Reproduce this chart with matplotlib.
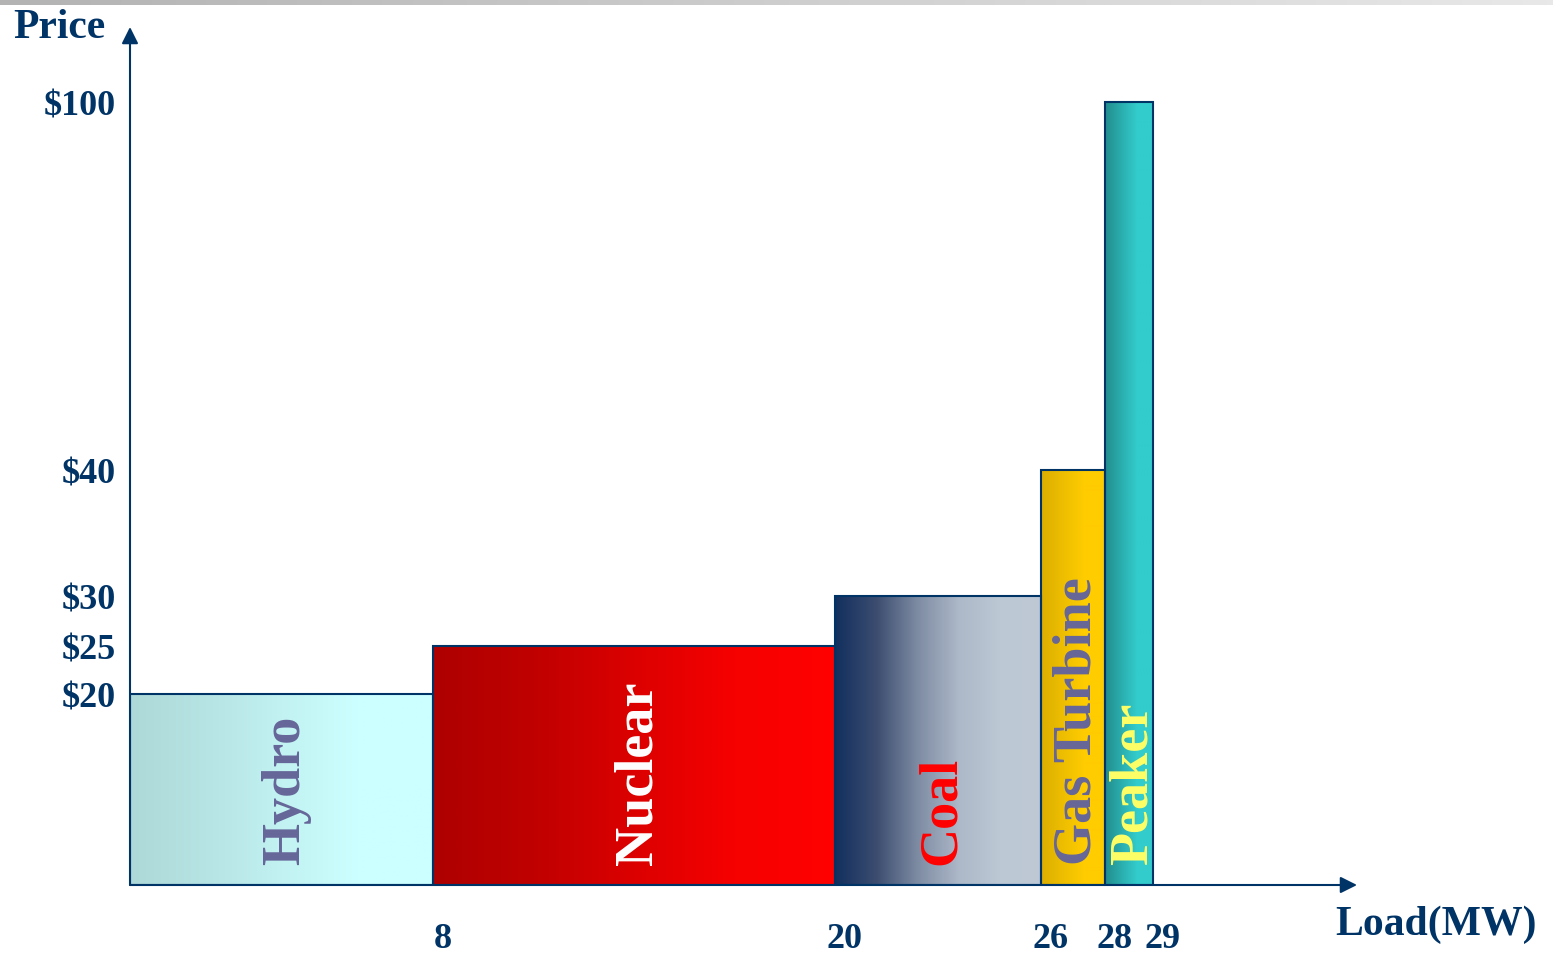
import matplotlib.pyplot as plt
import matplotlib.transforms as mtransforms
from matplotlib.colors import LinearSegmentedColormap
from matplotlib.patches import Rectangle
import numpy as np

# Supply stack: each plant type covers a load band (MW) at its marginal price ($)
plants = ['Hydro', 'Nuclear', 'Coal', 'Gas Turbine', 'Peaker']
load_edges = [0, 8, 20, 26, 28, 29]
prices = [20, 25, 30, 40, 100]

price_ticks = [20, 25, 30, 40, 100]
price_labels = ['$20', '$25', '$30', '$40', '$100']
load_ticks = [8, 20, 26, 28, 29]
load_labels = ['8', '20', '26', '28', '29']

# left-to-right fill gradients and label colours per plant
fills = [
    ['#AED9D9', '#B6E3E3', '#C2F2F2', '#CCFFFF', '#CCFFFF'],
    ['#AE0000', '#C00000', '#DC0000', '#F60000', '#FF0000'],
    ['#13305F', '#3C4D70', '#7E8CA3', '#ADB8C8', '#BDC8D5', '#BFC9D6'],
    ['#DCAE00', '#EDBE00', '#FFCC00', '#FFCC00'],
    ['#238E8E', '#2BAEAE', '#33CCCC', '#33CCCC'],
]
label_colors = ['#666699', 'white', '#FF0000', '#666699', '#FFFF66']

navy = '#003366'
serif = 'Liberation Serif'

# the axes are drawn schematically (not to scale): piecewise-linear stretch
x_knots = [0, 8, 20, 26, 28, 29, 33]
x_stretch = [0, 303, 705, 911, 975, 1023, 1227]
y_knots = [0, 20, 25, 30, 40, 100, 110]
y_stretch = [0, 191, 239, 289, 415, 783, 858]


def stretch_scale(knots, stretch):
    fwd = lambda v: np.interp(v, knots, stretch)
    inv = lambda p: np.interp(p, stretch, knots)
    return fwd, inv


W, H = 1553, 954
fig = plt.figure(figsize=(W / 100, H / 100), dpi=100)
fig.patch.set_facecolor('white')

# thin grey band along the top edge
band = fig.add_axes([0, 1 - 6 / H, 1, 6 / H])
band.imshow(np.linspace(0, 1, 256)[None, :], aspect='auto',
            cmap=LinearSegmentedColormap.from_list('band', ['#B3B3B3', '#E8E8E8']))
band.axis('off')

ax = fig.add_axes([130 / W, 1 - 886 / H, (1357 - 130) / W, (886 - 28) / H])
ax.set_xscale('function', functions=stretch_scale(x_knots, x_stretch))
ax.set_yscale('function', functions=stretch_scale(y_knots, y_stretch))

grad = np.linspace(0, 1, 256)[None, :]
for i, name in enumerate(plants):
    x0, x1 = load_edges[i], load_edges[i + 1]
    cmap = LinearSegmentedColormap.from_list(name, fills[i])
    ax.imshow(grad, cmap=cmap, aspect='auto', interpolation='bilinear',
              extent=(x0, x1, 0, prices[i]), zorder=1)
    ax.add_patch(Rectangle((x0, 0), x1 - x0, prices[i], fill=False,
                           edgecolor=navy, lw=1.5, zorder=2))
    ax.annotate(name, xy=((x0 + x1) / 2, 0), xytext=(3, 15),
                textcoords='offset points', rotation=90, rotation_mode='anchor',
                ha='left', va='center', fontsize=39, fontweight='bold',
                family=serif, color=label_colors[i], zorder=3)

ax.set_xlim(0, 33)
ax.set_ylim(0, 110)

for s in ax.spines.values():
    s.set_visible(False)

# axis arrows
arrow = dict(arrowstyle='-|>', color=navy, lw=1.5, mutation_scale=25,
             shrinkA=0, shrinkB=0)
ax.annotate('', xy=(0, 1), xytext=(0, 0), xycoords='axes fraction', arrowprops=arrow)
ax.annotate('', xy=(1, 0), xytext=(0, 0), xycoords='axes fraction', arrowprops=arrow)

ax.set_yticks(price_ticks, price_labels)
ax.set_xticks(load_ticks, load_labels)
ax.tick_params(axis='both', length=0, labelsize=26, labelcolor=navy)
ax.tick_params(axis='y', pad=10)
ax.tick_params(axis='x', pad=27)
shift = mtransforms.ScaledTranslation(10 / 100, 0, fig.dpi_scale_trans)
for lbl in ax.get_xticklabels() + ax.get_yticklabels():
    lbl.set_fontfamily(serif)
    lbl.set_fontweight('bold')
for lbl in ax.get_xticklabels():
    lbl.set_transform(lbl.get_transform() + shift)

fig.text(13 / W, 1 - 28 / H, 'Price', ha='left', va='center', fontsize=30,
         fontweight='bold', family=serif, color=navy)
fig.text(1537 / W, 1 - 925 / H, 'Load(MW)', ha='right', va='center', fontsize=30,
         fontweight='bold', family=serif, color=navy)

fig.savefig('out.png', dpi=100)
